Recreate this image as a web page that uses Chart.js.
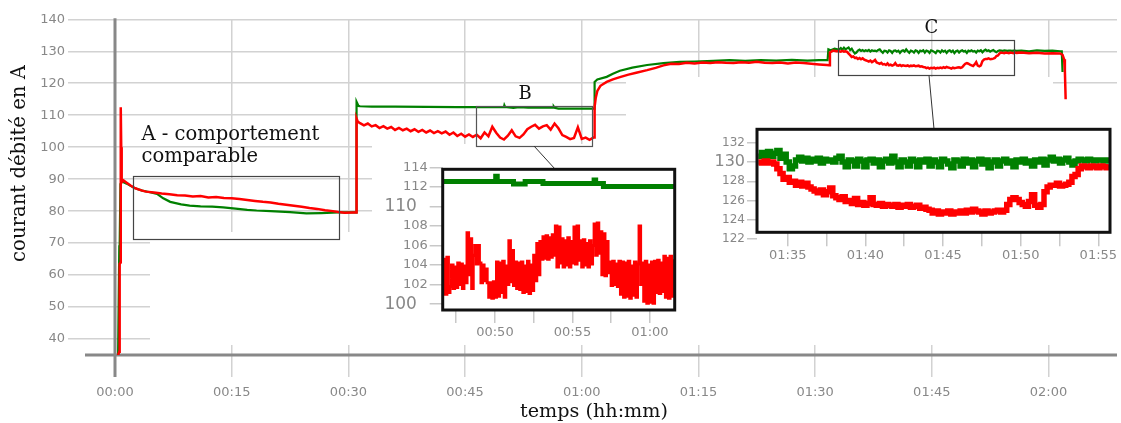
<!DOCTYPE html>
<html><head><meta charset="utf-8">
<script src="https://cdn.jsdelivr.net/npm/chart.js@4/dist/chart.umd.min.js"></script>
<style>
html,body{margin:0;padding:0;background:#fff;}
#wrap{position:relative;width:1121px;height:423px;overflow:hidden;}
canvas{position:absolute;}
#main{left:0;top:0;}
#insB{left:376px;top:156px;}
#insC{left:700px;top:120px;}
</style></head><body>
<div id="wrap">
<canvas id="main" width="1121" height="423"></canvas>
<canvas id="insB" width="306" height="192"></canvas>
<canvas id="insC" width="420" height="155"></canvas>
</div>
<script>
// ---------- DATA (time in minutes, current in A) ----------
const xMax = 128.8, yMin = 35, yMax = 140;
const xTitle = 'temps (hh:mm)';
const yTitle = 'courant débité en A';
const noteA = ['A - comportement', 'comparable'];
const noteB = 'B', noteC = 'C';

const redStart = [[0.4,35],[0.55,36],[0.6,63.5],[0.73,64],[0.74,112.5],[0.8,100],[0.86,89],[1.1,89.6],[1.5,88.9],[2,88],[2.5,87.3],[3,86.8],[3.5,86.4],[4,86.1],[5,85.8],[6,85.5],[7,85.3],[8,85.0],[9,84.9],[10,84.6],[11,84.7],[12,84.3],[13,84.4],[14,84.1],[15,84.0],[16,83.8],[17,83.5],[18,83.2],[19,82.9],[20,82.7],[21,82.3],[22,82.0],[23,81.7],[24,81.4],[25,81.0],[26,80.7],[27,80.3],[28,80.0],[28.7,79.7],[29.5,79.5],[30.5,79.6],[31.0,79.6],[31.05,109.0],[31.2,108.0]];
const greenStart = [[0.4,35],[0.55,69],[0.6,69.3],[0.7,88.5],[0.9,89.3],[1.5,88.6],[2.5,87.2],[3.5,86.4],[4.5,85.9],[5.4,85.4],[6.2,84.0],[7.1,82.9],[8.5,82.1],[9.6,81.7],[11,81.5],[12.5,81.4],[13.9,81.2],[15.5,80.8],[17,80.4],[18.2,80.2],[20,80.0],[22.5,79.7],[24.6,79.3],[26.5,79.4],[28.7,79.6],[31.0,79.6],[31.05,114.2],[31.3,112.9]];

// main red, 31.5 -> 61.5 min, one reading every 0.5 min
const redMidT0 = 31.5, redMidDt = 0.5;
const redMid = [107.5,106.8,107.4,106.5,106.9,106.0,106.6,105.8,106.3,105.4,
  106.0,105.3,105.8,105.0,105.6,104.8,105.4,104.6,105.2,104.4,
  105.0,104.3,104.9,103.9,104.6,103.5,104.2,103.3,104.0,103.2,
  103.9,102.8,104.6,103.4,106.4,104.5,103.0,102.4,103.6,105.3,
  103.4,102.9,104.0,105.6,106.4,107.0,105.8,106.5,106.9,105.5,
  107.4,105.9,103.8,103.2,102.5,102.9,106.2,102.6,103.0,102.3,103.0];
const greenMid = [[31.5,112.8],[33,112.7],[36,112.7],[40,112.6],[44,112.55]];

// zoom B (46.7 -> 61.5 min, every 0.1 min)
const bT0 = 46.7, bDt = 0.1;
const redB = [104.6,101.0,104.8,
  101.2,101.8,104.0,101.6,103.8,101.7,104.2,102.0,104.1,101.6,
  103.9,102.2,107.3,103.0,106.7,101.6,105.0,106.0,104.1,106.0,
  104.2,102.2,104.0,102.4,103.6,102.2,100.7,102.2,100.6,102.3,
  100.7,104.3,100.8,104.2,101.2,104.4,100.7,103.9,102.0,106.5,
  102.3,105.5,101.9,104.3,101.6,104.2,101.5,104.3,101.2,103.9,
  101.3,104.4,101.1,104.0,101.4,105.0,102.4,106.2,103.0,106.4,
  104.6,106.9,104.7,107.0,104.6,106.8,104.8,107.1,105.0,108.0,
  103.8,107.9,104.2,106.7,103.8,106.5,104.0,106.8,103.8,106.4,
  104.2,107.9,104.1,108.0,104.5,106.5,103.8,106.6,104.0,106.2,
  103.8,106.5,104.1,106.0,108.2,105.0,108.3,105.2,107.4,103.0,
  107.2,102.9,106.4,103.2,104.3,101.9,104.4,102.0,104.1,101.8,
  104.4,101.0,104.3,100.7,104.2,100.8,104.4,100.6,103.9,100.9,
  104.3,100.7,104.1,108.0,102.0,104.2,100.3,104.4,100.1,104.0,
  100.2,104.3,100.1,104.4,101.2,104.5,101.1,104.2,101.3,104.9,
  100.7,104.7,100.6,104.9,100.8,104.6];
const greenB = [[46.63,112.55],[50.0,112.55],[50.05,113.1],[50.15,112.55],[51.2,112.3],[51.95,112.55],[53.1,112.35],[56.35,112.35],[56.4,112.7],[56.5,112.35],[57.0,112.05],[61.6,112.05]];

const redRise = [[61.6,103.0],[61.65,112.6],[61.8,115.5],[62.0,117.6],[62.4,119.2],[63.2,120.4],[64.0,121.2],[64.9,121.9],[66,122.7],[67,123.3],[68.4,124.1],[69.5,124.8],[70.5,125.6],[71.5,126.1],[72.5,126.0],[73.5,126.4],[74.5,126.2],[75.5,126.5],[76.5,126.3],[77.5,126.6],[78.5,126.4],[79.5,126.3],[80.5,126.6],[81.5,126.4],[82.5,126.7],[83.5,126.4],[84.5,126.3],[85.5,126.5],[86.5,126.2],[87.5,126.5],[88.5,126.3],[89.5,126.1],[90.5,125.9],[91.5,125.7],[91.8,125.6],[91.9,129.6],[92.3,130.2],[92.7,130.0],[93.0,130.1]];
const greenRise = [[61.65,120.4],[62.0,121.2],[63.2,122.0],[64.0,123.0],[64.9,123.9],[66.5,124.9],[68.4,125.7],[70.5,126.3],[72.6,126.7],[74.5,126.8],[76.9,127.0],[79,127.2],[81,127.0],[83,127.2],[85,127.1],[87,127.3],[89,127.1],[90.5,127.2],[91.6,127.2],[91.7,130.6],[92.0,130.3],[92.5,130.8],[93.0,130.5]];

// zoom C (93.1 -> 115.7 min, every 0.2 min)
const cT0 = 93.1, cDt = 0.2;
const redC = [130.0,129.9,130.1,129.9,130.0, 129.8,129.3,128.8,128.2,128.4,
  127.9,128.0,127.6,127.9,127.5, 127.8,127.4,127.2,127.0,126.8,
  127.1,126.6,126.9,127.3,126.5, 126.3,126.1,126.4,125.9,126.0,
  125.7,126.2,125.6,125.8,125.5, 125.7,126.3,125.6,125.5,125.7,
  125.4,125.6,125.5,125.4,125.6, 125.3,125.5,125.4,125.6,125.3,
  125.4,125.5,125.2,125.3,125.1, 125.0,124.7,124.9,124.6,124.8,
  124.7,124.9,124.6,124.8,124.7, 124.9,124.7,125.0,124.8,125.1,
  124.9,124.8,124.6,124.9,124.7, 124.8,124.9,125.0,124.8,125.0,
  125.6,126.1,126.3,126.1,125.8, 125.6,125.4,125.9,126.6,125.5,
  125.3,125.6,126.9,127.4,127.6, 127.6,127.8,127.5,127.6,127.7,
  127.9,128.5,128.7,129.3,129.6, 129.5,129.4,129.6,129.5,129.4,
  129.6,129.5,129.4,129.6];
const greenC = [130.6,131.0,130.5,131.1,130.6, 130.9,131.2,130.4,130.8,130.0,
  129.3,129.6,130.2,130.5,130.1, 130.4,130.0,130.3,130.1,130.4,
  129.9,130.3,130.1,130.2,130.0, 130.4,130.6,130.0,129.5,130.2,
  130.1,129.6,130.3,130.1,129.5, 130.2,130.3,129.9,130.2,129.5,
  130.1,130.3,129.9,130.6,130.0, 129.5,130.2,130.0,129.6,130.3,
  130.1,129.5,130.2,130.0,130.3, 129.6,130.2,130.0,129.5,130.3,
  130.1,129.8,129.4,130.2,130.1, 129.6,130.3,129.9,130.2,129.5,
  130.1,130.3,129.8,130.2,129.4, 130.0,130.2,129.6,130.1,130.3,
  129.9,130.1,129.5,130.2,130.0, 130.3,129.9,130.1,129.6,130.2,
  130.0,130.3,129.7,130.2,130.5, 130.1,130.3,129.9,130.2,130.4,
  130.0,129.7,130.1,130.3,130.2, 130.1,130.3,130.2,130.1,130.2,
  130.2,130.1,130.2,130.2];

const redEnd = [[115.9,129.5],[116.5,129.6],[117.5,129.4],[118.5,129.5],[119.5,129.3],[120.5,129.4],[121.5,129.3],[121.8,128.9],[122.0,127.5],[122.1,124.0],[122.2,115.0]];
const greenEnd = [[115.9,130.1],[116.5,130.2],[117.5,130.0],[118.5,130.3],[119.5,130.1],[120.5,130.2],[121.5,130.0],[121.7,130.0],[121.8,123.5]];

// annotation boxes on the main chart, in data units [t0, t1, vLow, vHigh]
const boxA = [2.35, 28.83, 71.2, 90.9];
const boxB = [46.4, 61.3, 100.3, 112.8];
const boxC = [93.0, 115.6, 122.4, 133.5];

// ---------- HELPERS ----------
const hhmm = v => { const m = Math.round(v); return String(Math.floor(m/60)).padStart(2,'0') + ':' + String(m%60).padStart(2,'0'); };
const pairs = a => a.map(([x,y]) => ({x, y}));
const sampled = (t0, dt, vals) => vals.map((y,i) => ({x: +(t0 + i*dt).toFixed(2), y}));
const TICKFONT = 'DejaVu Sans', SERIF = 'DejaVu Serif';
const RED = '#ff0000', GREEN = '#008000';

function fitSize(ctx, text, width, family){
  ctx.font = '100px "' + family + '"';
  return 100 * width / ctx.measureText(text).width;
}

// white patches of the original figure (layout), pixel rectangles [x0,y0,x1,y1]
const maskRects = [[150,232,1117,345],[372,144,1117,345],[626,77,1053,345],[1053,90,1117,345]];

const mainDecor = {
  id: 'mainDecor',
  beforeDatasetsDraw(chart){
    const ctx = chart.ctx, xs = chart.scales.x, ys = chart.scales.y;
    ctx.save();
    ctx.fillStyle = '#fff';
    maskRects.forEach(([x0,y0,x1,y1]) => ctx.fillRect(x0, y0, x1-x0, y1-y0));
    const ax = xs.getPixelForValue(0), ay = ys.getPixelForValue(yMin);
    ctx.strokeStyle = '#888'; ctx.lineWidth = 3;
    ctx.beginPath(); ctx.moveTo(ax, chart.chartArea.top - 1); ctx.lineTo(ax, ay + 22); ctx.stroke();
    ctx.beginPath(); ctx.moveTo(ax - 30, ay); ctx.lineTo(chart.chartArea.right, ay); ctx.stroke();
    ctx.restore();
  },
  afterDatasetsDraw(chart){
    const ctx = chart.ctx, xs = chart.scales.x, ys = chart.scales.y;
    ctx.save();
    const rect = (b, col, lw) => {
      const x0 = xs.getPixelForValue(b[0]), x1 = xs.getPixelForValue(b[1]);
      const y0 = ys.getPixelForValue(b[3]), y1 = ys.getPixelForValue(b[2]);
      ctx.strokeStyle = col; ctx.lineWidth = lw;
      ctx.strokeRect(Math.round(x0)+0.5, Math.round(y0)+0.5, Math.round(x1-x0), Math.round(y1-y0));
    };
    rect(boxA, '#444', 1.2); rect(boxB, '#555', 1.2); rect(boxC, '#444', 1.2);
    // connectors
    ctx.strokeStyle = '#333'; ctx.lineWidth = 1;
    ctx.beginPath(); ctx.moveTo(534, 146); ctx.lineTo(555, 169); ctx.stroke();
    ctx.beginPath(); ctx.moveTo(929, 75.5); ctx.lineTo(934, 129); ctx.stroke();
    // texts
    ctx.fillStyle = '#111'; ctx.textBaseline = 'alphabetic';
    const sA = fitSize(ctx, noteA[0], 178, SERIF);
    ctx.font = sA.toFixed(2) + 'px "' + SERIF + '"'; ctx.textAlign = 'left';
    ctx.fillText(noteA[0], 141.5, 139.5);
    ctx.fillText(noteA[1], 141.5, 162);
    ctx.font = '18px "' + SERIF + '"'; ctx.textAlign = 'center';
    ctx.fillText(noteB, 525, 98.5);
    ctx.fillText(noteC, 931.5, 32.8);
    // axis titles
    const sx = fitSize(ctx, xTitle, 148, SERIF);
    ctx.font = sx.toFixed(2) + 'px "' + SERIF + '"'; ctx.textAlign = 'center'; ctx.textBaseline = 'middle';
    ctx.fillText(xTitle, 594, 412);
    const sy = fitSize(ctx, yTitle, 197, SERIF);
    ctx.font = sy.toFixed(2) + 'px "' + SERIF + '"';
    ctx.translate(19.5, 163.5); ctx.rotate(-Math.PI/2);
    ctx.fillText(yTitle, 0, 0);
    ctx.restore();
  }
};

const insetFrame = {
  id: 'insetFrame',
  afterDatasetsDraw(chart){
    const {ctx, chartArea: a} = chart;
    ctx.save(); ctx.strokeStyle = '#111'; ctx.lineWidth = 3;
    ctx.strokeRect(a.left, a.top, a.right - a.left, a.bottom - a.top);
    ctx.restore();
  }
};

const redMain = [...pairs(redStart), ...sampled(redMidT0, redMidDt, redMid), ...pairs(redRise), ...sampled(cT0, cDt, redC), ...pairs(redEnd)];
const greenMain = [...pairs(greenStart), ...pairs(greenMid), ...pairs(greenB), ...pairs(greenRise), ...sampled(cT0, cDt, greenC), ...pairs(greenEnd)];

const baseOpts = {responsive:false, animation:false, events:[], plugins:{legend:{display:false}, tooltip:{enabled:false}}};

// ---------- MAIN CHART ----------
new Chart(document.getElementById('main'), {
  type: 'line',
  data: {datasets: [
    {data: redMain, borderColor: RED, borderWidth: 2.5, pointRadius: 0, tension: 0},
    {data: greenMain, borderColor: GREEN, borderWidth: 2.2, pointRadius: 0, tension: 0}
  ]},
  options: Object.assign({}, baseOpts, {
    layout: {padding: {top: 19.3, right: 4, left: 0, bottom: 0}},
    scales: {
      x: {type: 'linear', min: 0, max: xMax,
        afterFit: s => { s.height = 68; },
        border: {display: false},
        grid: {color: '#d2d2d2', lineWidth: 1.5, tickLength: 22},
        ticks: {stepSize: 15, includeBounds: false, autoSkip: false, maxRotation: 0, padding: 8,
          color: '#888', font: {family: TICKFONT, size: 13}, callback: v => hhmm(v)}},
      y: {type: 'linear', min: yMin, max: yMax,
        afterFit: s => { s.width = 115; },
        border: {display: false},
        grid: {color: '#d2d2d2', lineWidth: 1.5, tickLength: 47},
        ticks: {stepSize: 10, includeBounds: false, autoSkip: false, padding: 3,
          color: '#888', font: {family: TICKFONT, size: 13}}}
    }
  }),
  plugins: [mainDecor]
});

// ---------- INSET B ----------
new Chart(document.getElementById('insB'), {
  type: 'line',
  data: {datasets: [
    {data: sampled(bT0, bDt, redB), borderColor: RED, borderWidth: 3, pointRadius: 0, stepped: true},
    {data: pairs(greenB), borderColor: GREEN, borderWidth: 5, pointRadius: 0, stepped: true}
  ]},
  options: Object.assign({}, baseOpts, {
    layout: {padding: {top: 13.3, right: 7.3, left: 0, bottom: 0}},
    scales: {
      x: {type: 'linear', min: 46.63, max: 61.6,
        afterFit: s => { s.height = 38; },
        border: {display: false},
        grid: {drawOnChartArea: false, color: '#c8c8c8', lineWidth: 1.5, tickLength: 13},
        ticks: {stepSize: 2.5, includeBounds: false, autoSkip: false, maxRotation: 0, padding: 2,
          color: '#888', font: {family: TICKFONT, size: 13},
          callback: v => (Math.abs(v % 5) < 1e-6 ? hhmm(v) : '')}},
      y: {type: 'linear', min: 99.4, max: 113.8,
        afterFit: s => { s.width = 66.7; },
        afterBuildTicks: s => { if (!s.ticks.some(t => t.value === 114)) s.ticks.push({value: 114}); },
        border: {display: false},
        grid: {drawOnChartArea: false, color: '#c8c8c8', lineWidth: 1.5, tickLength: 13},
        ticks: {stepSize: 2, includeBounds: false, autoSkip: false, padding: 2, color: '#888',
          font: c => (c.tick && c.tick.value % 10 === 0) ? {family: TICKFONT, size: 17} : {family: TICKFONT, size: 13},
          callback: v => (v % 10 === 0 ? v + '  ' : String(v))}}
    }
  }),
  plugins: [insetFrame]
});

// ---------- INSET C ----------
new Chart(document.getElementById('insC'), {
  type: 'line',
  data: {datasets: [
    {data: sampled(cT0, cDt, redC), borderColor: RED, borderWidth: 5.5, pointRadius: 0, stepped: true},
    {data: sampled(cT0, cDt, greenC), borderColor: GREEN, borderWidth: 5.5, pointRadius: 0, stepped: true}
  ]},
  options: Object.assign({}, baseOpts, {
    layout: {padding: {top: 9.3, right: 10, left: 0, bottom: 0}},
    scales: {
      x: {type: 'linear', min: 93.02, max: 115.75,
        afterFit: s => { s.height = 42.7; },
        border: {display: false},
        grid: {drawOnChartArea: false, color: '#c8c8c8', lineWidth: 1.5, tickLength: 14},
        ticks: {stepSize: 2.5, includeBounds: false, autoSkip: false, maxRotation: 0, padding: 2,
          color: '#888', font: {family: TICKFONT, size: 13},
          callback: v => (Math.abs(v % 5) < 1e-6 ? hhmm(v) : '')}},
      y: {type: 'linear', min: 122.7, max: 133.4,
        afterFit: s => { s.width = 57; },
        afterBuildTicks: s => { if (!s.ticks.some(t => t.value === 122)) s.ticks.unshift({value: 122}); },
        border: {display: false},
        grid: {drawOnChartArea: false, color: '#c8c8c8', lineWidth: 1.5, tickLength: 10},
        ticks: {stepSize: 2, includeBounds: false, autoSkip: false, padding: 2, color: '#888',
          font: c => (c.tick && c.tick.value % 10 === 0) ? {family: TICKFONT, size: 16} : {family: TICKFONT, size: 12},
          callback: v => String(v)}}
    }
  }),
  plugins: [insetFrame]
});
</script>
</body></html>
